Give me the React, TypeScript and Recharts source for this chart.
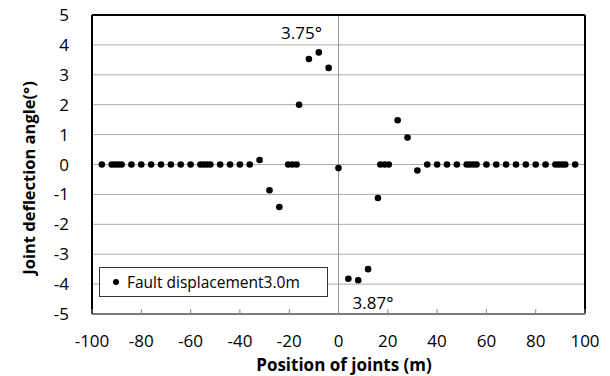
import {
  ScatterChart, Scatter, XAxis, YAxis, CartesianGrid, ReferenceLine, ReferenceDot, Legend,
} from 'recharts'

// joint positions along the pipeline (m) and the deflection angle at each joint (deg)
const jointPositions = [
  -96, -92, -90.7, -89.3, -88, -84, -80, -76, -72, -68, -64, -60, -56, -54.7, -53.3, -52,
  -48, -44, -40, -36, -32, -28, -24, -20.4, -18.7, -17, -16, -12, -8, -4, 0, 4, 8, 12, 16,
  17, 18.7, 20.4, 24, 28, 32, 36, 40, 44, 48, 52, 53.3, 54.7, 56, 60, 64, 68, 72, 76, 80,
  84, 88, 89.3, 90.7, 92, 96,
]
const deflectionAngles = [
  0, 0, 0, 0, 0, 0, 0, 0, 0, 0, 0, 0, 0, 0, 0, 0,
  0, 0, 0, 0, 0.15, -0.86, -1.42, 0, 0, 0, 2.0, 3.53, 3.75, 3.23, -0.12, -3.82, -3.87, -3.5, -1.12,
  0, 0, 0, 1.48, 0.9, -0.2, 0, 0, 0, 0, 0, 0, 0, 0, 0, 0, 0, 0, 0, 0,
  0, 0, 0, 0, 0, 0,
]

const xTicks = [-100, -80, -60, -40, -20, 0, 20, 40, 60, 80, 100]
const yTicks = [-5, -4, -3, -2, -1, 0, 1, 2, 3, 4, 5]

const seriesName = 'Fault displacement3.0m'
const peakLabel = '3.75°'
const troughLabel = '3.87°'

const data = jointPositions.map((x, i) => ({ x, y: deflectionAngles[i] }))

const FONT = '"Open Sans", sans-serif'
const X_TICK_GAP = 21

function XTick({ x, y, payload }: any) {
  return (
    <g>
      <line x1={x} x2={x} y1={y - X_TICK_GAP} y2={y - X_TICK_GAP - 5} stroke="#888" />
      <text x={x} y={y} dy="0.71em" textAnchor="middle" fontSize={17} fill="#000" fontFamily={FONT}>
        {payload.value}
      </text>
    </g>
  )
}

function Dot({ cx, cy }: any) {
  return <circle cx={cx} cy={cy} r={3.3} fill="#000" />
}

function LegendBox() {
  return (
    <div
      style={{
        border: '1px solid #333', background: '#fff', height: 30, boxSizing: 'border-box',
        display: 'flex', alignItems: 'center', fontFamily: FONT, fontSize: 15.5, color: '#000',
      }}
    >
      <span style={{ width: 6, height: 6, borderRadius: 3, background: '#000', margin: '0 8px 0 13px' }} />
      {seriesName}
    </div>
  )
}

export default function App() {
  return (
    <div style={{ position: 'absolute', left: 0, top: 0, width: 610, height: 376, background: '#fff' }}>
      <ScatterChart width={610} height={376} margin={{ top: 15, right: 25, bottom: 32, left: 62 }}>
        <CartesianGrid vertical={false} stroke="#aaa" />
        <XAxis
          type="number"
          dataKey="x"
          domain={[-100, 100]}
          ticks={xTicks}
          height={30}
          tickSize={0}
          tickMargin={X_TICK_GAP}
          tickLine={false}
          axisLine={{ stroke: '#7a7a7a', strokeWidth: 2 }}
          tick={<XTick />}
        />
        <YAxis
          type="number"
          dataKey="y"
          domain={[-5, 5]}
          ticks={yTicks}
          width={30}
          tickSize={0}
          tickMargin={23}
          tickLine={false}
          axisLine={{ stroke: '#000', strokeWidth: 2 }}
          tick={{ fontSize: 17, fill: '#000', fontFamily: FONT }}
        />
        <ReferenceLine x={0} stroke="#999" />
        <ReferenceLine y={5} stroke="#000" strokeWidth={2} />
        <ReferenceLine x={100} stroke="#000" strokeWidth={2} />
        <Scatter data={data} name={seriesName} shape={<Dot />} isAnimationActive={false} />
        <ReferenceDot
          x={-15}
          y={4.39}
          r={0}
          stroke="none"
          label={{ value: peakLabel, position: 'center', fontSize: 17, fill: '#000', fontFamily: FONT }}
        />
        <ReferenceDot
          x={14}
          y={-4.64}
          r={0}
          stroke="none"
          label={{ value: troughLabel, position: 'center', fontSize: 17, fill: '#000', fontFamily: FONT }}
        />
        <Legend
          layout="vertical"
          verticalAlign="middle"
          align="center"
          content={<LegendBox />}
          wrapperStyle={{ left: 99, top: 267, width: 229 }}
        />
      </ScatterChart>
      <div
        style={{
          position: 'absolute', left: 29, top: 178, transform: 'translate(-50%, -50%) rotate(-90deg)',
          whiteSpace: 'nowrap', fontFamily: FONT, fontWeight: 'bold', fontSize: 16.5, color: '#000',
          lineHeight: 1,
        }}
      >
        Joint deflection angle(°)
      </div>
      <div
        style={{
          position: 'absolute', left: 344, top: 364, transform: 'translate(-50%, -50%)',
          whiteSpace: 'nowrap', fontFamily: FONT, fontWeight: 'bold', fontSize: 17, color: '#000',
          lineHeight: 1,
        }}
      >
        Position of joints (m)
      </div>
    </div>
  )
}
